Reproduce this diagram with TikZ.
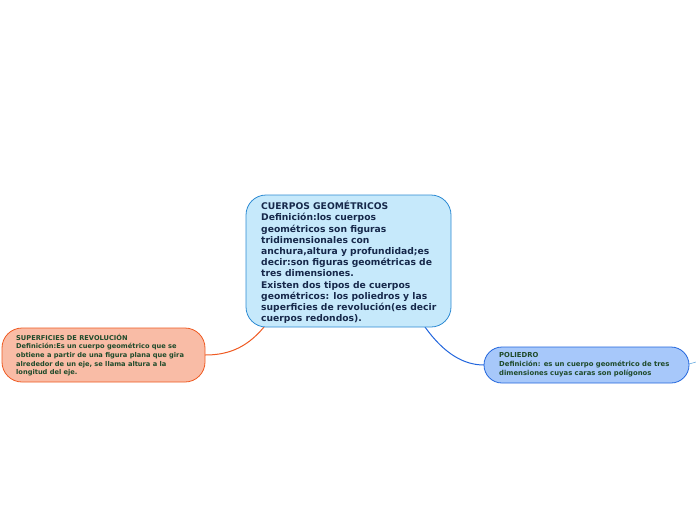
\documentclass[tikz,border=0pt]{standalone}
\usepackage{fontspec}
\setmainfont{DejaVu Sans}
\definecolor{cfill}{HTML}{C6E9FB}
\definecolor{cdraw}{HTML}{2C8AD3}
\definecolor{ctext}{HTML}{16284A}
\definecolor{lfill}{HTML}{F9BCA6}
\definecolor{ldraw}{HTML}{EF5A22}
\definecolor{rfill}{HTML}{A7C8FA}
\definecolor{rdraw}{HTML}{2266DD}
\definecolor{gtext}{HTML}{1E4A2A}
\begin{document}
\begin{tikzpicture}[x=1pt,y=-1pt,
  box/.style={rounded corners=#1, line width=0.8pt},
  txt/.style={anchor=north west, align=left, inner sep=0pt, font=\bfseries},
]
\useasboundingbox (0,0) rectangle (696,520);
% connectors
\coordinate (c1) at (264,327);
\coordinate (c2) at (425,327);
\coordinate (l1) at (205,355);
\coordinate (r1) at (484,365);
\draw[ldraw, line width=1pt] (c1) .. controls (245,350) and (225,355) .. (l1);
\draw[rdraw, line width=1pt] (c2) .. controls (445,355) and (465,365) .. (r1);
% stubs
\coordinate (rs1) at (689,364);
\coordinate (rs2) at (696,362);
\draw[cdraw!70, line width=0.6pt] (rs1) -- (rs2);
% center box
\draw[box=20pt, fill=cfill, draw=cdraw] (246,195) rectangle (451,327);
\node[txt, text=ctext, font=\bfseries\fontsize{9.2}{11.2}\selectfont] (center) at (261,201) {CUERPOS GEOMÉTRICOS\\Definición:los cuerpos\\geométricos son figuras\\tridimensionales con\\anchura,altura y profundidad;es\\decir:son figuras geométricas de\\tres dimensiones.\\Existen dos tipos de cuerpos\\geométricos: los poliedros y las\\superficies de revolución(es decir\\cuerpos redondos).};
% left box
\draw[box=20pt, fill=lfill, draw=ldraw] (2,328) rectangle (205,382);
\node[txt, text=gtext, font=\bfseries\fontsize{6.65}{8.6}\selectfont] (left) at (16,334) {SUPERFICIES DE REVOLUCIÓN\\Definición:Es un cuerpo geométrico que se\\obtiene a partir de una figura plana que gira\\alrededor de un eje, se llama altura a la\\longitud del eje.};
% right box
\draw[box=18pt, fill=rfill, draw=rdraw] (484,347) rectangle (689,383);
\node[txt, text=gtext, font=\bfseries\fontsize{6.85}{9}\selectfont] (right) at (499,352) {POLIEDRO\\Definición: es un cuerpo geométrico de tres\\dimensiones cuyas caras son polígonos};
\end{tikzpicture}
\end{document}
